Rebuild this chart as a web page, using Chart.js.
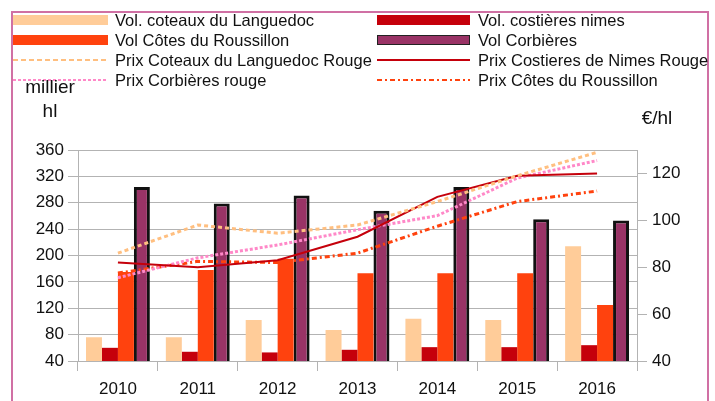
<!DOCTYPE html>
<html lang="fr">
<head>
<meta charset="UTF-8">
<title>Volumes et prix</title>
<script src="https://cdn.jsdelivr.net/npm/chart.js"></script>
<style>
  html, body { margin: 0; padding: 0; background: #fff; }
  #wrap { position: relative; width: 715px; height: 401px; }
</style>
</head>
<body>
<div id="wrap"><canvas id="chart" width="715" height="401"></canvas></div>
<script>
// categories
const years = ['2010', '2011', '2012', '2013', '2014', '2015', '2016'];

// volumes (millier hl) - left axis
const volCoteaux = [76, 76, 102, 87, 104, 102, 214];
const volCostieres = [60, 54, 53, 57, 61, 61, 64];
const volRoussillon = [175, 178, 195, 173, 173, 173, 125];
const volCorbieres = [304, 279, 291, 268, 304, 255, 253];

// prix (€/hl) - right axis
const prixCoteaux = [86, 98, 94.5, 98, 108, 119, 129];
const prixCostieres = [82, 80, 83, 93, 110, 119, 120];
const prixCorbieres = [75.5, 84, 89.5, 96, 102, 118, 125.5];
const prixRoussillon = [77.5, 82.5, 82, 86, 97.5, 108, 112.5];

// axis ranges
const volMin = 40, volMax = 360, volStep = 40;
const prixMin = 40, prixMax = 130, prixStep = 20, prixLastTick = 120;

const FONT = '"Liberation Sans", Arial, sans-serif';

// legend layout: two columns, four rows
const legendItems = [
  { label: 'Vol. coteaux du Languedoc', type: 'bar', color: '#ffcc99' },
  { label: 'Vol. costières nimes', type: 'bar', color: '#c5000b' },
  { label: 'Vol Côtes du Roussillon', type: 'bar', color: '#ff420e' },
  { label: 'Vol Corbières', type: 'bar', color: '#993366', border: '#222' },
  { label: 'Prix Coteaux du Languedoc Rouge', type: 'line', color: '#ffbf80', dash: [5, 3] },
  { label: 'Prix Costieres de Nimes Rouge', type: 'line', color: '#c5000b', dash: [] },
  { label: 'Prix Corbières rouge', type: 'line', color: '#ff88c8', dash: [3, 2] },
  { label: 'Prix Côtes du Roussillon', type: 'line', color: '#ff420e', dash: [5, 3, 2, 3] }
];

const decorPlugin = {
  id: 'decor',
  afterDraw(chart) {
    const ctx = chart.ctx;
    ctx.save();
    // frame
    ctx.strokeStyle = '#d070a4';
    ctx.lineWidth = 2;
    ctx.strokeRect(12, 12, 696, 400);

    // legend
    ctx.font = '16.5px ' + FONT;
    ctx.textBaseline = 'middle';
    ctx.textAlign = 'left';
    legendItems.forEach((it, i) => {
      const col = i % 2, row = Math.floor(i / 2);
      const x0 = col === 0 ? 13 : 377;
      const x1 = col === 0 ? 108 : 470;
      const tx = col === 0 ? 115 : 478;
      const y = 20 + row * 20;
      if (it.type === 'bar') {
        ctx.fillStyle = it.color;
        ctx.fillRect(x0, y - 5, x1 - x0, 10);
        if (it.border) {
          ctx.strokeStyle = it.border;
          ctx.lineWidth = 1;
          ctx.setLineDash([]);
          ctx.strokeRect(x0 + 0.5, y - 4.5, x1 - x0 - 1, 9);
        }
      } else {
        ctx.strokeStyle = it.color;
        ctx.lineWidth = 2;
        ctx.setLineDash(it.dash);
        ctx.beginPath();
        ctx.moveTo(x0, y);
        ctx.lineTo(x1, y);
        ctx.stroke();
        ctx.setLineDash([]);
      }
      ctx.fillStyle = '#111';
      ctx.fillText(it.label, tx, y + 1);
    });

    // axis titles
    ctx.font = '19px ' + FONT;
    ctx.textAlign = 'center';
    ctx.fillText('millier', 50, 88);
    ctx.fillText('hl', 50, 112);
    ctx.fillText('€/hl', 657, 119);
    ctx.restore();
  }
};

const ctx = document.getElementById('chart').getContext('2d');
new Chart(ctx, {
  type: 'bar',
  data: {
    labels: years,
    datasets: [
      { type: 'line', label: 'Prix Coteaux du Languedoc Rouge', data: prixCoteaux, yAxisID: 'y1', order: 0,
        borderColor: '#ffbf80', borderWidth: 3, borderDash: [4, 3], pointRadius: 0, tension: 0, fill: false },
      { type: 'line', label: 'Prix Costieres de Nimes Rouge', data: prixCostieres, yAxisID: 'y1', order: 0,
        borderColor: '#c5000b', borderWidth: 2, pointRadius: 0, tension: 0, fill: false },
      { type: 'line', label: 'Prix Corbières rouge', data: prixCorbieres, yAxisID: 'y1', order: 0,
        borderColor: '#ff88c8', borderWidth: 3, borderDash: [3, 2], pointRadius: 0, tension: 0, fill: false },
      { type: 'line', label: 'Prix Côtes du Roussillon', data: prixRoussillon, yAxisID: 'y1', order: 0,
        borderColor: '#ff420e', borderWidth: 3, borderDash: [5, 3, 2, 3], pointRadius: 0, tension: 0, fill: false },
      { label: 'Vol. coteaux du Languedoc', data: volCoteaux, yAxisID: 'y', order: 1,
        backgroundColor: '#ffcc99', categoryPercentage: 0.8, barPercentage: 1.0 },
      { label: 'Vol. costières nimes', data: volCostieres, yAxisID: 'y', order: 1,
        backgroundColor: '#c5000b', categoryPercentage: 0.8, barPercentage: 1.0 },
      { label: 'Vol Côtes du Roussillon', data: volRoussillon, yAxisID: 'y', order: 1,
        backgroundColor: '#ff420e', categoryPercentage: 0.8, barPercentage: 1.0 },
      { label: 'Vol Corbières', data: volCorbieres, yAxisID: 'y', order: 1,
        backgroundColor: '#993366', borderColor: '#111', borderWidth: 3, borderSkipped: false,
        categoryPercentage: 0.8, barPercentage: 1.0 }
    ]
  },
  options: {
    responsive: false,
    animation: false,
    layout: { padding: { top: 150, left: 0, right: 0, bottom: 0 } },
    plugins: {
      legend: { display: false },
      tooltip: { enabled: false }
    },
    scales: {
      x: {
        offset: true,
        grid: { offset: true, drawOnChartArea: false, tickLength: 10, color: '#b3b3b3' },
        border: { color: '#b3b3b3' },
        ticks: { color: '#111', font: { family: FONT, size: 17 }, padding: 8 },
        afterFit(s) { s.height = 40; }
      },
      y: {
        position: 'left',
        min: volMin, max: volMax,
        ticks: { stepSize: volStep, color: '#111', font: { family: FONT, size: 17 }, padding: 4 },
        grid: { color: '#b3b3b3', tickLength: 10 },
        border: { color: '#b3b3b3' },
        afterFit(s) { s.width = 78; }
      },
      y1: {
        position: 'right',
        min: prixMin, max: prixMax,
        ticks: { stepSize: prixStep, color: '#111', font: { family: FONT, size: 17 }, padding: 5 },
        grid: { drawOnChartArea: false, color: '#b3b3b3', tickLength: 10 },
        border: { color: '#b3b3b3' },
        afterBuildTicks(s) { s.ticks = s.ticks.filter(t => t.value <= prixLastTick); },
        afterFit(s) { s.width = 78; }
      }
    }
  },
  plugins: [decorPlugin]
});
</script>
</body>
</html>
